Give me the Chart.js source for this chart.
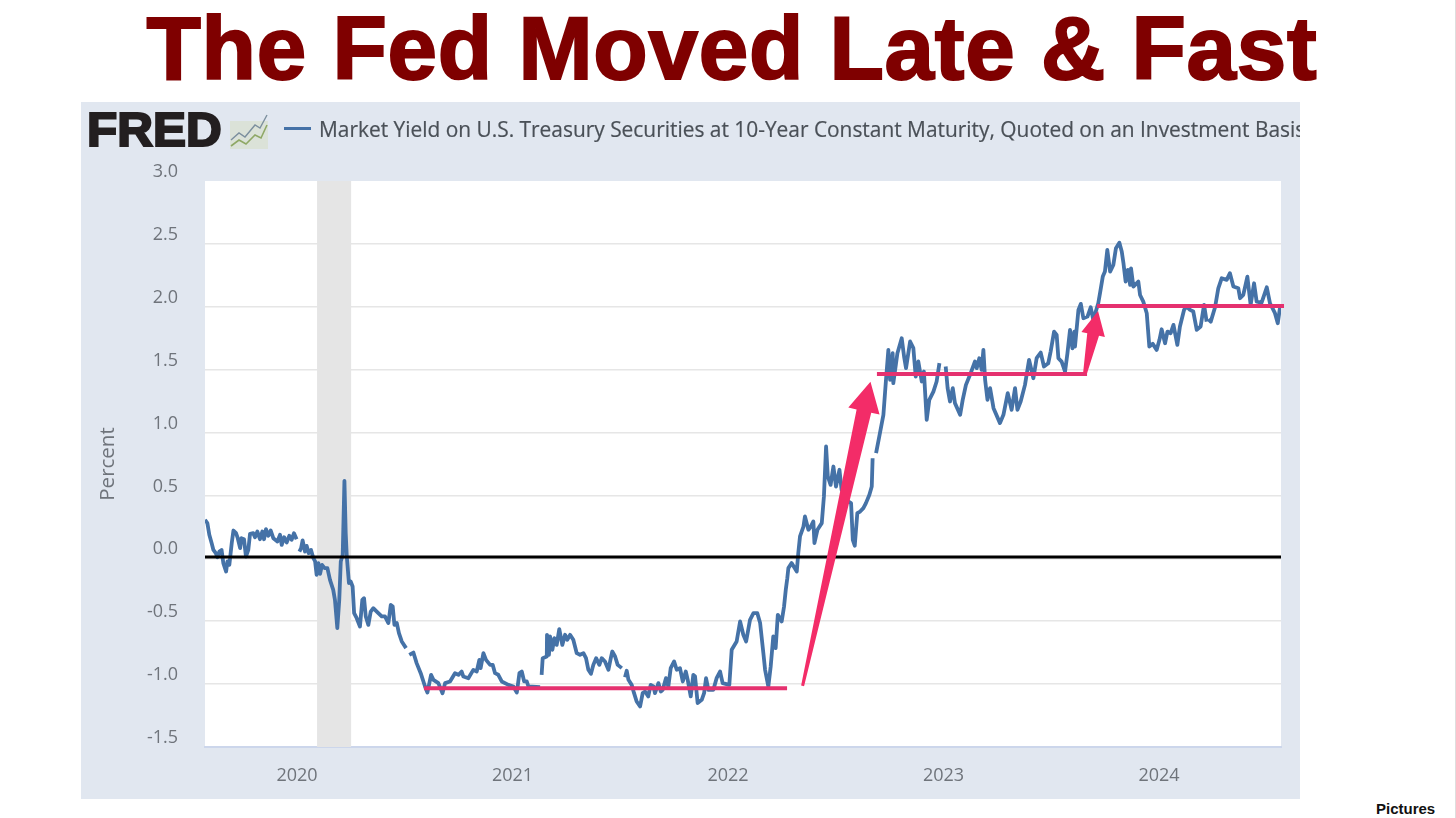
<!DOCTYPE html>
<html>
<head>
<meta charset="utf-8">
<script src="https://cdn.jsdelivr.net/npm/chart.js@4/dist/chart.umd.min.js"></script>
<style>
html,body{margin:0;padding:0;background:#fff;width:1456px;height:818px;overflow:hidden}
#title{position:absolute;left:0;top:-2px;width:1464px;text-align:center;font:bold 89px/100px "Liberation Sans",Arial,sans-serif;letter-spacing:0.75px;color:#7f0000;white-space:nowrap;-webkit-text-stroke:2px #7f0000}
#panel{position:absolute;left:81px;top:102px;width:1219px;height:697px;background:#e1e7f0;overflow:hidden}
#chart{position:absolute;left:0;top:0;filter:blur(0.45px)}
#logo{position:absolute;left:6px;top:0px;font:bold 48px/56px "Liberation Sans",Arial,sans-serif;color:#231f20;-webkit-text-stroke:2.2px #231f20;letter-spacing:0;transform:scaleX(1.03);transform-origin:0 50%}
#icon{position:absolute;left:149px;top:11px}
#swatch{position:absolute;left:203px;top:25px;width:27px;height:3px;background:#4572a7}
#legend{position:absolute;left:238px;top:12px;font:20.9px/30px "Open Sans",sans-serif;color:#4a5057;white-space:nowrap;-webkit-text-stroke:0.2px #4a5057}
#credit{position:absolute;left:1376px;top:800px;font:bold 15px/18px "Liberation Sans",Arial,sans-serif;color:#111}
#edge{position:absolute;left:1455px;top:0;width:1px;height:818px;background:#dedede}
</style>
</head>
<body>
<div id="title">The Fed Moved Late &amp; Fast</div>
<div id="panel">
  <canvas id="chart" width="1219" height="697"></canvas>
  <div id="logo">FRED</div>
  <svg id="icon" width="38" height="36" viewBox="0 0 38 36">
    <rect x="0" y="8" width="38" height="28" fill="#dbe2d8"/>
    <polyline points="1,27 9,20 15,24 25,12 30,15 37,2" fill="none" stroke="#7c8f9e" stroke-width="1.4"/>
    <polyline points="1,33 9,27 16,31 25,22 31,25 37,12" fill="none" stroke="#8fa866" stroke-width="1.6"/>
  </svg>
  <div id="swatch"></div>
  <div id="legend">Market Yield on U.S. Treasury Securities at 10-Year Constant Maturity, Quoted on an Investment Basis</div>
</div>
<div id="credit">Pictures</div>
<div id="edge"></div>
<script>
const seriesLabel = "Market Yield on U.S. Treasury Securities at 10-Year Constant Maturity, Quoted on an Investment Basis";
const yTicks = [-1.5,-1,-0.5,0,0.5,1,1.5,2,2.5,3];
const xTicks = [2020,2021,2022,2023,2024];

const dates2019 = [2019.573,2019.584,2019.593,2019.604,2019.612,2019.623,2019.630,2019.640,2019.650,2019.658,2019.671,2019.677,2019.686,2019.697,2019.705,2019.717,2019.725,2019.736,2019.742,2019.754,2019.763,2019.774,2019.782,2019.797,2019.805,2019.816,2019.828,2019.839,2019.847,2019.856,2019.867,2019.878,2019.890,2019.909,2019.921,2019.929,2019.940,2019.952,2019.964,2019.975,2019.986,2019.998,2020.002];
const yields2019 = [0.306,0.280,0.187,0.120,0.067,0.041,0.009,0.054,0.067,-0.038,-0.105,-0.025,-0.052,0.120,0.221,0.200,0.160,0.081,0.160,0.152,0.014,0.067,0.195,0.200,0.168,0.213,0.152,0.213,0.152,0.232,0.179,0.221,0.160,0.134,0.187,0.107,0.168,0.126,0.179,0.147,0.200,0.152,null];

const dates2020 = [2020.011,2020.019,2020.026,2020.037,2020.045,2020.054,2020.065,2020.076,2020.084,2020.091,2020.099,2020.107,2020.116,2020.128,2020.141,2020.153,2020.168,2020.176,2020.187,2020.196,2020.203,2020.212,2020.220,2020.226,2020.231,2020.241,2020.249,2020.258,2020.265,2020.277,2020.292,2020.303,2020.311,2020.319,2020.331,2020.342,2020.354,2020.370,2020.393,2020.408,2020.424,2020.435,2020.444,2020.452,2020.463,2020.473,2020.486,2020.506,2020.512,2020.521,2020.540,2020.555,2020.574,2020.594,2020.605,2020.622,2020.633,2020.656,2020.675,2020.687,2020.710,2020.733,2020.749,2020.764,2020.772,2020.795,2020.818,2020.834,2020.846,2020.852,2020.865,2020.877,2020.896,2020.908,2020.919,2020.934,2020.950,2020.981,2021.004,2021.020,2021.032,2021.043,2021.054,2021.066,2021.074,2021.128,2021.131];
const yields2020 = [0.054,0.081,0.142,0.054,0.099,0.041,0.067,0.001,-0.025,-0.131,-0.038,-0.123,-0.052,-0.078,-0.078,-0.171,-0.251,-0.330,-0.555,-0.330,-0.025,0.028,0.616,0.200,0.014,-0.197,-0.184,-0.224,-0.436,-0.476,-0.542,-0.330,-0.317,-0.462,-0.529,-0.423,-0.396,-0.423,-0.462,-0.462,-0.515,-0.370,-0.383,-0.529,-0.515,-0.595,-0.661,-0.714,null,-0.767,-0.749,-0.833,-0.913,-1.019,-1.067,-0.926,-0.966,-0.992,-1.072,-0.992,-0.979,-0.913,-0.926,-0.900,-0.940,-0.953,-0.887,-0.900,-0.807,-0.873,-0.754,-0.807,-0.847,-0.847,-0.913,-0.926,-0.979,-1.006,-1.019,-1.067,-0.913,-0.900,-0.979,-0.979,-1.019,-1.024,null];

const dates2021 = [2021.135,2021.140,2021.159,2021.160,2021.169,2021.174,2021.185,2021.194,2021.205,2021.217,2021.231,2021.244,2021.254,2021.267,2021.282,2021.298,2021.313,2021.329,2021.341,2021.352,2021.364,2021.375,2021.388,2021.403,2021.414,2021.429,2021.445,2021.456,2021.463,2021.476,2021.488,2021.507,2021.510,2021.522,2021.530,2021.538,2021.553,2021.564,2021.576,2021.592,2021.604,2021.615,2021.630,2021.641,2021.654,2021.661,2021.677,2021.688,2021.697,2021.712,2021.723,2021.734,2021.750,2021.762,2021.777,2021.790,2021.804,2021.813,2021.827,2021.839,2021.847,2021.859,2021.878,2021.889,2021.898,2021.909,2021.932,2021.947,2021.963,2021.975,2022.006,2022.017,2022.040,2022.056,2022.071,2022.084,2022.102,2022.118,2022.136,2022.149,2022.164,2022.172,2022.187,2022.198,2022.210,2022.221,2022.231,2022.249,2022.260,2022.268];
const yields2021 = [-0.926,-0.794,-0.780,-0.608,-0.767,-0.621,-0.727,-0.635,-0.688,-0.563,-0.688,-0.608,-0.648,-0.608,-0.648,-0.754,-0.767,-0.754,-0.794,-0.886,-0.918,-0.847,-0.794,-0.847,-0.794,-0.820,-0.886,-0.794,-0.741,-0.780,-0.847,-0.873,null,-0.945,-0.894,-0.966,-1.006,-1.072,-1.138,-1.178,-1.072,-1.059,-1.098,-1.006,-1.019,-1.072,-0.992,-1.059,-1.045,-0.953,-1.019,-0.873,-0.820,-0.886,-0.873,-0.979,-0.900,-0.966,-1.098,-0.926,-0.939,-1.151,-1.125,-1.072,-0.953,-1.045,-1.045,-0.953,-0.900,-0.992,-1.006,-0.727,-0.661,-0.502,-0.608,-0.661,-0.489,-0.436,-0.436,-0.515,-0.754,-0.886,-1.019,-0.860,-0.621,-0.714,-0.449,-0.502,-0.383,-0.250];

const dates2022 = [2022.275,2022.280,2022.295,2022.319,2022.326,2022.334,2022.350,2022.357,2022.373,2022.384,2022.396,2022.401,2022.415,2022.435,2022.445,2022.455,2022.463,2022.476,2022.489,2022.501,2022.517,2022.527,2022.558,2022.571,2022.579,2022.588,2022.600,2022.613,2022.628,2022.640,2022.656,2022.667,2022.671,2022.679,2022.687,2022.702,2022.721,2022.733,2022.744,2022.752,2022.764,2022.767,2022.786,2022.806,2022.817,2022.826,2022.845,2022.860,2022.871,2022.883,2022.899,2022.909,2022.922,2022.934,2022.953,2022.968,2022.981,2022.988,2022.995,2023.002,2023.010,2023.019,2023.030,2023.043,2023.053,2023.077,2023.089,2023.104,2023.123,2023.146,2023.154,2023.166,2023.177,2023.185,2023.193,2023.204,2023.216,2023.232,2023.262,2023.278,2023.298,2023.316,2023.332,2023.343,2023.358,2023.378,2023.397];
const yields2022 = [-0.158,-0.078,-0.038,-0.105,0.041,0.174,0.253,0.333,0.227,0.253,0.293,0.121,0.227,0.280,0.492,0.889,0.651,0.584,0.730,0.571,0.704,0.545,0.452,0.439,0.147,0.100,0.359,0.372,0.399,0.439,0.505,0.571,0.796,null,0.836,0.969,1.141,1.419,1.658,1.419,1.631,1.393,1.631,1.750,1.604,1.512,1.724,1.671,1.445,1.565,1.406,1.485,1.101,1.260,1.326,1.406,1.552,null,1.591,null,1.525,1.353,1.247,1.353,1.234,1.141,1.260,1.379,1.459,1.565,1.512,1.591,1.499,1.658,1.419,1.260,1.353,1.194,1.075,1.141,1.313,1.181,1.353,1.181,1.247,1.379,1.578];

const dates2023 = [2023.417,2023.432,2023.451,2023.466,2023.486,2023.497,2023.513,2023.525,2023.533,2023.548,2023.564,2023.575,2023.587,2023.598,2023.607,2023.610,2023.626,2023.637,2023.649,2023.668,2023.683,2023.695,2023.718,2023.726,2023.739,2023.749,2023.760,2023.773,2023.788,2023.800,2023.816,2023.827,2023.835,2023.845,2023.855,2023.866,2023.870,2023.881,2023.904,2023.912,2023.927,2023.943,2023.955,2023.971,2023.989,2024.002,2024.012,2024.028,2024.039,2024.054,2024.067,2024.085,2024.097,2024.116,2024.128,2024.144,2024.159,2024.175,2024.193,2024.209,2024.221,2024.225,2024.229,2024.240,2024.260,2024.275,2024.291,2024.314,2024.329,2024.345,2024.368,2024.376,2024.391,2024.410,2024.425,2024.441,2024.453,2024.476,2024.500,2024.515,2024.538,2024.551,2024.562];
const yields2023 = [1.432,1.591,1.636,1.525,1.551,1.644,1.803,1.776,1.591,1.564,1.485,1.631,1.816,1.670,1.803,1.684,1.975,2.023,1.909,1.922,1.996,1.896,2.028,2.107,2.240,2.280,2.452,2.280,2.333,2.465,2.510,2.439,2.346,2.200,2.293,2.174,2.306,2.161,2.200,2.094,2.041,1.949,1.684,1.705,1.657,1.737,1.821,1.710,1.803,1.790,1.856,1.697,1.843,1.975,2.002,1.975,1.962,1.816,1.843,2.015,1.882,null,1.901,1.882,1.996,2.147,2.227,2.214,2.267,2.161,2.147,2.068,2.094,2.240,2.015,2.187,2.041,2.033,2.155,2.028,1.949,1.869,2.002];

const dates = [...dates2019,...dates2020,...dates2021,...dates2022,...dates2023];
const yields = [...yields2019,...yields2020,...yields2021,...yields2022,...yields2023];

const zeroLineDates = [2019.573,2024.566];
const zeroLineValues = [0.01,0.01];
const floorDates = [2020.589,2022.274];
const floorValues = [-1.033,-1.033];
const midDates = [2022.691,2023.666];
const midValues = [1.465,1.465];
const topDates = [2023.712,2024.580];
const topValues = [2.007,2.007];

const recessionStart = 2020.093;
const recessionEnd = 2020.251;

const bigArrowTail = [2022.346,-1.014];
const bigArrowTip = [2022.661,1.404];
const smallArrowTail = [2023.657,1.475];
const smallArrowTip = [2023.717,1.967];

const BLUE = "#4572a7", PINK = "#e5316f", ARROW = "#f32c68";
const toXY = (xs, ys) => xs.map((x,i)=>({x, y: ys[i]}));

const plotDecor = {
  id:"plotDecor",
  beforeDraw(c){
    const a=c.chartArea, g=c.ctx;
    g.save(); g.fillStyle="#fff"; g.fillRect(a.left,a.top,a.right-a.left,a.bottom-a.top); g.restore();
  },
  beforeDatasetsDraw(c){
    const a=c.chartArea, g=c.ctx, x=c.scales.x;
    const l=x.getPixelForValue(recessionStart), r=x.getPixelForValue(recessionEnd);
    g.save(); g.fillStyle="#e5e5e5"; g.fillRect(l,a.top,r-l,a.bottom-a.top); g.restore();
  },
  afterDatasetsDraw(c){
    const g=c.ctx, X=c.scales.x, Y=c.scales.y;
    const arrow=(tail,tip,headLen,headHalf,shaftEnd,tailW)=>{
      const x0=X.getPixelForValue(tail[0]), y0=Y.getPixelForValue(tail[1]);
      const x1=X.getPixelForValue(tip[0]),  y1=Y.getPixelForValue(tip[1]);
      const L=Math.hypot(x1-x0,y1-y0), ux=(x1-x0)/L, uy=(y1-y0)/L, px=-uy, py=ux;
      const bx=x1-ux*headLen, by=y1-uy*headLen;
      g.beginPath();
      g.moveTo(x0+px*tailW/2,y0+py*tailW/2);
      g.lineTo(bx+px*shaftEnd/2,by+py*shaftEnd/2);
      g.lineTo(bx+px*headHalf,by+py*headHalf);
      g.lineTo(x1,y1);
      g.lineTo(bx-px*headHalf,by-py*headHalf);
      g.lineTo(bx-px*shaftEnd/2,by-py*shaftEnd/2);
      g.lineTo(x0-px*tailW/2,y0-py*tailW/2);
      g.closePath(); g.fill();
    };
    g.save(); g.fillStyle=ARROW;
    arrow(bigArrowTail,bigArrowTip,30,16,15,3);
    arrow(smallArrowTail,smallArrowTip,24,12,12,4);
    g.restore();
  }
};

const flat = (label,data,color,w)=>({label,data,borderColor:color,backgroundColor:color,borderWidth:w,pointRadius:0,tension:0,clip:false,borderCapStyle:"butt"});

new Chart(document.getElementById("chart"),{
  type:"line",
  data:{datasets:[
    flat("Zero",toXY(zeroLineDates,zeroLineValues),"#000",3),
    {label:seriesLabel,data:toXY(dates,yields),borderColor:BLUE,backgroundColor:BLUE,borderWidth:3.8,pointRadius:0,tension:0,spanGaps:false,borderJoinStyle:"round"},
    flat("Floor",toXY(floorDates,floorValues),PINK,4),
    flat("Mid",toXY(midDates,midValues),PINK,4),
    flat("Top",toXY(topDates,topValues),PINK,4)
  ].map((d,i)=>({...d,order:[1,2,0,0,0][i]}))},
  options:{
    responsive:false,animation:false,devicePixelRatio:1,parsing:true,
    layout:{padding:{top:79,right:19,bottom:0,left:0}},
    plugins:{legend:{display:false},tooltip:{enabled:false},title:{display:false}},
    scales:{
      x:{type:"linear",min:2019.573,max:2024.566,
        afterFit(s){s.height=52},
        afterBuildTicks(s){s.ticks=xTicks.map(v=>({value:v}))},
        border:{display:true,color:"#ccd6eb",width:2},
        grid:{display:false,drawTicks:false},
        ticks:{padding:18,maxRotation:0,autoSkip:false,color:"#6f747b",font:{family:"'Open Sans'",size:18},callback:v=>String(v)}
      },
      y:{type:"linear",min:-1.5,max:3,
        afterFit(s){s.width=124},
        afterBuildTicks(s){s.ticks=yTicks.map(v=>({value:v}))},
        border:{display:false},
        grid:{color:c=>c.tick.value===3||c.tick.value===-1.5?"rgba(0,0,0,0)":"#e6e6e6",lineWidth:1.6,drawTicks:false},
        title:{display:true,text:"Percent",color:"#6f747b",font:{family:"'Open Sans'",size:20.5},padding:{top:15,bottom:0}},
        ticks:{padding:27,autoSkip:false,color:"#6f747b",font:{family:"'Open Sans'",size:18,lineHeight:1},
          callback:v=>[v.toFixed(1),""]}
      }
    }
  },
  plugins:[plotDecor]
});
</script>
</body>
</html>
